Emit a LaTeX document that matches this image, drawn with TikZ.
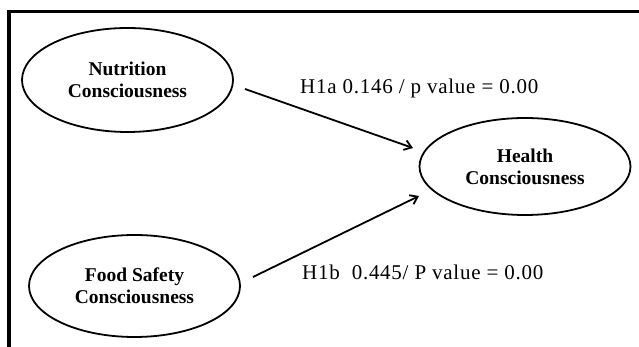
\documentclass[tikz,border=0pt]{standalone}
\usepackage{fontspec}
\setmainfont{Liberation Serif}
\usetikzlibrary{arrows.meta,shapes.geometric,calc}
\tikzset{
  construct/.style={draw, ellipse, line width=1.8pt, inner sep=0pt,
    font=\fontsize{19.5}{22}\selectfont\bfseries, align=center},
  path arrow/.style={line width=1.8pt, -{Straight Barb[length=7pt,width=10pt,line width=1.8pt]}},
  hyp/.style={font=\fontsize{21}{24}\selectfont\addfontfeatures{LetterSpace=3.5}, anchor=base west, inner sep=0pt},
  frame/.style={line width=3.2pt}
}
\begin{document}
\begin{tikzpicture}[x=1pt,y=1pt]
\useasboundingbox (0,0) rectangle (639,347);
\draw[frame] (639,335.5) -- (9,335.5) -- (9,0);
\node[construct, minimum width=211pt, minimum height=104pt] (nut) at (127.5,267) {Nutrition\\Consciousness};
\node[construct, minimum width=211pt, minimum height=102pt] (food) at (134.5,61) {Food Safety\\Consciousness};
\node[construct, minimum width=211pt, minimum height=97pt] (health) at (525,180.5) {Health\\Consciousness};
\draw[path arrow] ($(nut)+(117.5,-9)$) -- ($(health)+(-112,18.5)$);
\draw[path arrow] ($(food)+(118.5,9)$) -- ($(health)+(-106,-29.5)$);
\node[hyp] (l1) at (300,253) {H1a 0.146 / p value = 0.00};
\node[hyp] (l2) at (302,67) {H1b~~0.445/ P value = 0.00};
\end{tikzpicture}
\end{document}
